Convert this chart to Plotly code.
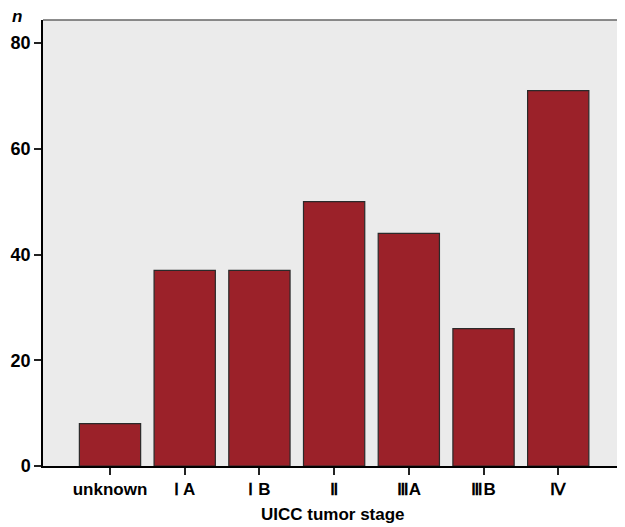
import plotly.graph_objects as go

categories = ["unknown", "Ⅰ A", "Ⅰ B", "Ⅱ", "ⅢA", "ⅢB", "Ⅳ"]
counts = [8, 37, 37, 50, 44, 26, 71]
y_ticks = [0, 20, 40, 60, 80]

fig = go.Figure()
fig.add_trace(go.Bar(
    x=list(range(len(categories))),
    y=counts,
    width=0.82,
    marker=dict(color="#9b2129", line=dict(color="#2a2a2a", width=1.2)),
    hoverinfo="skip",
))

# page body has an 8px margin; figure is sized to fit the window
fig.update_layout(
    width=617, height=519,
    margin=dict(l=35, r=2, t=12, b=61, autoexpand=False),
    paper_bgcolor="white",
    plot_bgcolor="#ebebeb",
    showlegend=False,
    font=dict(family="Liberation Sans, Arial, sans-serif", color="black"),
    xaxis=dict(
        range=[-0.897, 6.867],
        tickvals=list(range(len(categories))),
        ticktext=[f"<b>{c}</b>" for c in categories],
        ticks="outside", ticklen=7, tickcolor="#222", tickwidth=1.5,
        tickfont=dict(size=17),
        showline=True, linecolor="black", linewidth=1.5,
        showgrid=False, zeroline=False, automargin=False,
    ),
    yaxis=dict(
        range=[0, 84.35],
        tickvals=y_ticks,
        ticktext=[f"<b>{v}</b>" for v in y_ticks],
        ticks="outside", ticklen=7, tickcolor="#222", tickwidth=1.5,
        tickfont=dict(size=18),
        showline=True, linecolor="black", linewidth=1.5,
        showgrid=False, zeroline=False, automargin=False,
    ),
)

# gray frame on top and right
fig.add_shape(type="line", xref="paper", yref="paper", x0=0, x1=1, y0=1, y1=1,
              line=dict(color="#666666", width=1.5))
fig.add_shape(type="line", xref="paper", yref="paper", x0=1, x1=1, y0=0, y1=1,
              line=dict(color="#666666", width=1.5))

fig.add_annotation(text="<b><i>n</i></b>", xref="paper", yref="paper",
                   x=-0.045, y=1.007, xanchor="center", yanchor="middle",
                   showarrow=False, font=dict(size=17))
fig.add_annotation(text="<b>UICC tumor stage</b>", xref="paper", yref="paper",
                   x=0.5, y=-0.108, xanchor="center", yanchor="middle",
                   showarrow=False, font=dict(size=17))

fig.write_html("out.html")
